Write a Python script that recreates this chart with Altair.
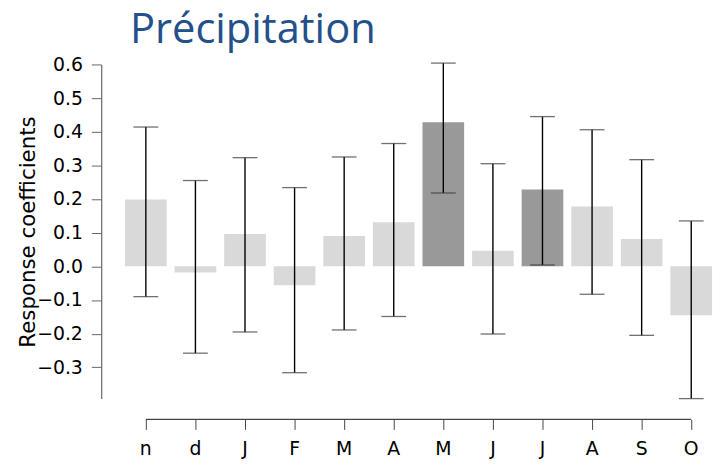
import altair as alt
import pandas as pd

months = ["n", "d", "J", "F", "M", "A", "M", "J", "J", "A", "S", "O"]
coef = [0.199, -0.018, 0.096, -0.056, 0.090, 0.131, 0.428, 0.046, 0.228, 0.178, 0.081, -0.145]
upper = [0.414, 0.255, 0.323, 0.234, 0.325, 0.365, 0.604, 0.305, 0.445, 0.406, 0.317, 0.135]
lower = [-0.090, -0.258, -0.195, -0.316, -0.189, -0.149, 0.218, -0.201, 0.004, -0.083, -0.205, -0.393]
significant = [False, False, False, False, False, False, True, False, True, False, False, False]
y_ticks = [-0.3, -0.2, -0.1, 0.0, 0.1, 0.2, 0.3, 0.4, 0.5, 0.6]

keys = [f"{i:02d}{m}" for i, m in enumerate(months)]
df = pd.DataFrame({
    "key": keys,
    "coef": coef,
    "upper": upper,
    "lower": lower,
    "sig": ["yes" if s else "no" for s in significant],
})
axis_df = pd.DataFrame({"start": [keys[0]], "end": [keys[-1]]})

FONT = "DejaVu Sans"

x_scale = alt.Scale(domain=keys, paddingInner=0.16, paddingOuter=0.04)
y_scale = alt.Scale(domain=[-0.393, 0.6], nice=False, zero=False)

x_enc = alt.X(
    "key:N",
    scale=x_scale,
    sort=keys,
    axis=alt.Axis(
        title=None,
        labelExpr="slice(datum.label, 2)",
        labelAngle=0,
        domain=False,
        ticks=True,
        tickSize=10,
        tickColor="#444444",
        tickWidth=1,
        offset=21,
        labelPadding=10,
        labelFont=FONT,
        labelFontSize=19,
        labelColor="#000000",
        labelOverlap=False,
    ),
)

y_enc = alt.Y(
    "coef:Q",
    scale=y_scale,
    axis=alt.Axis(
        title="Response coefficients",
        values=y_ticks,
        tickCount=20,
        format=".1f",
        offset=22,
        tickSize=10,
        tickColor="#666666",
        domainColor="#666666",
        tickWidth=1,
        domainWidth=1.2,
        labelPadding=9,
        labelFont=FONT,
        labelFontSize=19,
        labelColor="#000000",
        labelOverlap=False,
        labelFlush=False,
        labelBound=False,
        titleFont=FONT,
        titleFontSize=21.5,
        titleFontWeight="normal",
        titleColor="#000000",
        titleX=-73,
        titleBaseline="middle",
        grid=False,
    ),
)

bars = alt.Chart(df).mark_bar(size=42).encode(
    x=x_enc,
    y=y_enc,
    y2=alt.datum(0),
    color=alt.Color(
        "sig:N",
        scale=alt.Scale(domain=["no", "yes"], range=["#d9d9d9", "#999999"]),
        legend=None,
    ),
)

err = alt.Chart(df).mark_rule(color="#000000", strokeWidth=1.4).encode(
    x=alt.X("key:N", sort=keys),
    y=alt.Y("lower:Q"),
    y2="upper:Q",
)

cap_top = alt.Chart(df).mark_tick(color="#333333", size=25, thickness=1.3).encode(
    x=alt.X("key:N", sort=keys),
    y=alt.Y("upper:Q"),
)
cap_bot = alt.Chart(df).mark_tick(color="#333333", size=25, thickness=1.3).encode(
    x=alt.X("key:N", sort=keys),
    y=alt.Y("lower:Q"),
)

x_line = alt.Chart(axis_df).mark_rule(color="#444444", strokeWidth=1.2).encode(
    x=alt.X("start:N", bandPosition=0.5),
    x2=alt.X2("end:N", bandPosition=0.5),
    y=alt.value(358),
)

chart = (
    alt.layer(bars, err, cap_top, cap_bot, x_line)
    .properties(
        width=596,
        height=337,
        autosize=alt.AutoSizeParams(type="none"),
        padding={"left": 116, "top": 55, "right": 5, "bottom": 60},
        title=alt.TitleParams(
            "Précipitation",
            anchor="start",
            frame="group",
            font="Open Sans",
            fontSize=42,
            fontWeight="normal",
            color="#23508A",
            offset=4,
            dx=7,
        ),
    )
    .configure_view(stroke=None)
    .configure_axis(grid=False)
)

chart.save("out.html", embed_options={"renderer": "svg", "actions": False})
